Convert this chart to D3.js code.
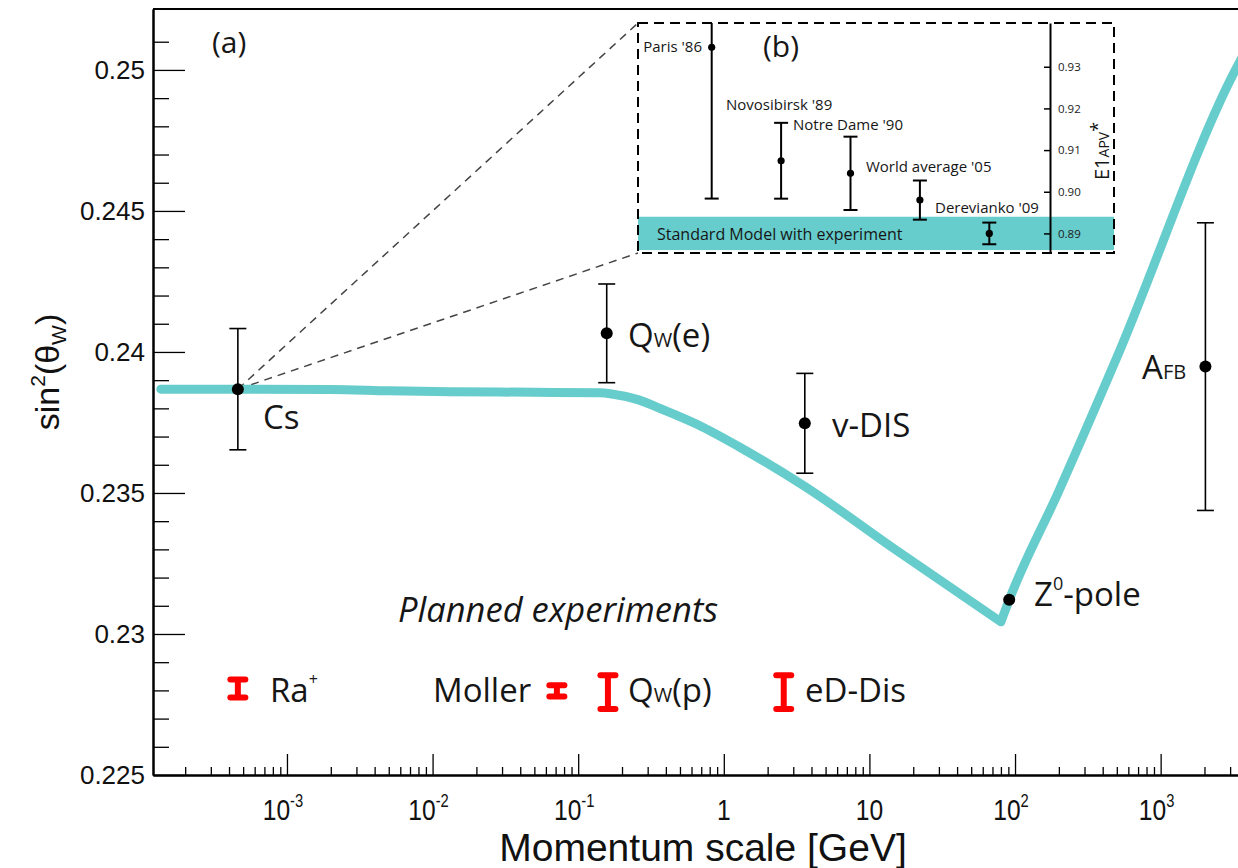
<!DOCTYPE html>
<html><head><meta charset="utf-8">
<script src="https://cdn.jsdelivr.net/npm/d3@7"></script>
<style>body{margin:0;background:#fff;} svg{display:block;}</style>
</head><body>
<svg id="c" width="1238" height="868"></svg>
<script>
// ---------- data ----------
// running of sin^2(theta_W) (teal curve)
const curveQ = [1.36e-4, 2e-3, 5e-3, 0.013, 0.05, 0.14, 0.17, 0.26, 0.36, 0.67, 1.27, 3.63, 15, 80];
const curveS = [0.23868, 0.23867, 0.23862, 0.23859, 0.23857, 0.23855, 0.23851, 0.2383, 0.23801, 0.23741, 0.23664, 0.23522, 0.2330, 0.23043];
const curveQ2 = [80, 91.19, 200, 500, 3264, 4000];
const curveS2 = [0.23043, 0.23121, 0.23507, 0.2398, 0.2500, 0.25085];

// measurements (black)
const measNames = ["Cs", "Qw(e)", "v-DIS", "Z0-pole", "AFB"];
const measQ = [4.6e-4, 0.157, 3.6, 91.19, 2030];
const measS = [0.23868, 0.24066, 0.23747, 0.23121, 0.23948];
const measErr = [0.00215, 0.00175, 0.00177, 0, 0.0051];

// planned experiments (red)
const planNames = ["Ra+", "Moller", "Qw(p)", "eD-Dis"];
const planQ = [4.6e-4, 0.0714, 0.16, 2.58];
const planS = [0.22807, 0.22798, 0.22794, 0.22794];
const planErr = [0.00032, 0.0002, 0.0006, 0.0006];

// axis ticks
const yMajor = [0.225, 0.23, 0.235, 0.24, 0.245, 0.25];
const yMinor = [0.226,0.227,0.228,0.229,0.231,0.232,0.233,0.234,0.236,0.237,0.238,0.239,0.241,0.242,0.243,0.244,0.246,0.247,0.248,0.249,0.251];
const xMajor = [1e-3, 1e-2, 1e-1, 1, 10, 100, 1000];
const xTickBase = ["10", "10", "10", "1", "10", "10", "10"];
const xTickExp = ["-3", "-2", "-1", "", "", "2", "3"];

// inset (b): E1 APV*
const insetNames = ["Paris '86", "Novosibirsk '89", "Notre Dame '90", "World average '05", "Derevianko '09"];
const insetVals = [0.93466, 0.90744, 0.90442, 0.898, 0.89];
const insetErr = [0.0363, 0.0091, 0.0088, 0.0047, 0.0026];
const insetTicks = [0.89, 0.90, 0.91, 0.92, 0.93];
const smCenter = 0.890, smHalf = 0.004;

// ---------- layout ----------
const svg = d3.select("#c");
const X0 = 153, X1 = 1240, Y0 = 9, Y1 = 775;
const x = d3.scaleLog().domain([10 ** -3.92, 10 ** 3.545]).range([X0, X1]);
const y = d3.scaleLinear().domain([0.225, 0.25216]).range([Y1, Y0]);
const TEAL = "#66cccc";
const TXT = "#161616";
const LAB = "'Open Sans', 'Noto Sans', sans-serif";
const AX = "'Liberation Sans', Arial, sans-serif";

svg.append("defs").append("clipPath").attr("id", "plotclip")
  .append("rect").attr("x", X0).attr("y", Y0).attr("width", X1 - X0).attr("height", Y1 - Y0);

// ---------- inset (b) ----------
const IX0 = 638, IX1 = 1114, IY0 = 23, IY1 = 253;
const ix = d3.scaleLinear().domain([0, 4]).range([711.7, 989.3]);
const iy = d3.scaleLinear().domain([0.8853, 0.9405]).range([IY1, IY0]);
svg.append("defs").append("clipPath").attr("id", "insetclip")
  .append("rect").attr("x", IX0).attr("y", IY0).attr("width", IX1 - IX0).attr("height", IY1 - IY0);

const ins = svg.append("g");
ins.append("rect").attr("x", IX0).attr("width", IX1 - IX0)
  .attr("y", iy(smCenter + smHalf)).attr("height", iy(smCenter - smHalf) - iy(smCenter + smHalf))
  .attr("fill", TEAL);

const iax = ins.append("g").attr("transform", `translate(1050,0)`)
  .call(d3.axisRight(iy).tickValues(insetTicks).tickSizeInner(-6).tickSizeOuter(0).tickPadding(8).tickFormat(d3.format(".2f")));
iax.selectAll("path.domain").attr("stroke", "#000").attr("stroke-width", 2);
iax.selectAll(".tick line").attr("stroke", "#000").attr("stroke-width", 1.5);
iax.selectAll(".tick text").attr("font-family", LAB).attr("font-size", 11.5).attr("fill", "#222");

const ig = ins.append("g").attr("clip-path", "url(#insetclip)");
insetVals.forEach((v, i) => {
  const cx = ix(i);
  ig.append("line").attr("x1", cx).attr("x2", cx).attr("y1", iy(v + insetErr[i])).attr("y2", iy(v - insetErr[i]))
    .attr("stroke", "#000").attr("stroke-width", 2);
  [v + insetErr[i], v - insetErr[i]].forEach(e => {
    ig.append("line").attr("x1", cx - 7).attr("x2", cx + 7).attr("y1", iy(e)).attr("y2", iy(e))
      .attr("stroke", "#000").attr("stroke-width", 2);
  });
  ig.append("circle").attr("cx", cx).attr("cy", iy(v)).attr("r", 3.6).attr("fill", "#000");
});

ins.append("rect").attr("x", IX0).attr("y", IY0).attr("width", IX1 - IX0).attr("height", IY1 - IY0)
  .attr("fill", "none").attr("stroke", "#000").attr("stroke-width", 2).attr("stroke-dasharray", "10,6");

const insetLab = [
  [insetNames[0], 702, 52, "end"],
  [insetNames[1], 726, 110, "start"],
  [insetNames[2], 793, 130, "start"],
  [insetNames[3], 866, 172, "start"],
  [insetNames[4], 935, 213, "start"]
];
insetLab.forEach(d => {
  ins.append("text").attr("x", d[1]).attr("y", d[2]).attr("text-anchor", d[3])
    .attr("font-family", LAB).attr("font-size", 15).attr("fill", TXT).text(d[0]);
});
ins.append("text").attr("x", 657).attr("y", 240).attr("font-family", LAB).attr("font-size", 16)
  .attr("fill", TXT).text("Standard Model with experiment");
ins.append("text").attr("x", 763).attr("y", 57).attr("font-family", LAB).attr("font-size", 30)
  .attr("fill", TXT).text("(b)");
const e1 = ins.append("text").attr("transform", "translate(1109,180) rotate(-90)")
  .attr("font-family", LAB).attr("fill", TXT).attr("font-size", 20);
e1.append("tspan").text("E1");
e1.append("tspan").attr("font-size", 14).text("APV");
e1.append("tspan").attr("font-size", 18).attr("dy", -5).text("*");

// ---------- connector dashed lines ----------
const csX = x(measQ[0]), csY = y(measS[0]);
[[IX0, IY0], [IX0, IY1]].forEach(p => {
  svg.append("line").attr("x1", csX).attr("y1", csY).attr("x2", p[0]).attr("y2", p[1])
    .attr("stroke", "#444").attr("stroke-width", 1.5).attr("stroke-dasharray", "8,6");
});

// ---------- axes ----------
const gx = svg.append("g").attr("transform", `translate(0,${Y1})`);
gx.append("g").call(d3.axisBottom(x).tickValues(xMajor).tickSizeInner(-21).tickSizeOuter(0).tickFormat(""));
const xMinor = x.ticks().filter(t => Math.abs(Math.log10(t) - Math.round(Math.log10(t))) > 1e-6);
gx.append("g").call(d3.axisBottom(x).tickValues(xMinor).tickSizeInner(-8).tickSizeOuter(0).tickFormat(""));
gx.selectAll("path.domain").attr("stroke", "#000").attr("stroke-width", 2);
gx.selectAll(".tick line").attr("stroke", "#000").attr("stroke-width", 1.3);

const gy = svg.append("g").attr("transform", `translate(${X0},0)`);
const gyM = gy.append("g").call(d3.axisLeft(y).tickValues(yMajor).tickSizeInner(-32).tickSizeOuter(0).tickPadding(8).tickFormat(d3.format(".3~f")));
gy.append("g").call(d3.axisLeft(y).tickValues(yMinor).tickSizeInner(-16).tickSizeOuter(0).tickFormat(""));
gy.selectAll("path.domain").attr("stroke", "#000").attr("stroke-width", 2);
gy.selectAll(".tick line").attr("stroke", "#000").attr("stroke-width", 1.3);
gyM.selectAll(".tick text").attr("font-family", AX).attr("font-size", 26).attr("fill", "#111");

svg.append("line").attr("x1", X0).attr("x2", X1).attr("y1", Y0).attr("y2", Y0)
  .attr("stroke", "#000").attr("stroke-width", 2);

xMajor.forEach((v, i) => {
  const t = svg.append("text").attr("transform", `translate(${x(v) - (xTickExp[i] ? 4 : 0)},820) scale(0.82,1)`)
    .attr("text-anchor", "middle")
    .attr("font-family", AX).attr("font-size", 30).attr("fill", "#111");
  t.append("tspan").text(xTickBase[i]);
  if (xTickExp[i]) t.append("tspan").attr("font-size", 18).attr("dy", -13).text(xTickExp[i]);
});
svg.append("text").attr("x", 703).attr("y", 861).attr("text-anchor", "middle")
  .attr("font-family", AX).attr("font-size", 39).attr("fill", "#111").text("Momentum scale [GeV]");

const yt = svg.append("text").attr("transform", "translate(59,372) rotate(-90)").attr("text-anchor", "middle")
  .attr("font-family", AX).attr("font-size", 34).attr("fill", "#111");
yt.append("tspan").text("sin");
yt.append("tspan").attr("font-size", 21).attr("dy", -14).text("2");
yt.append("tspan").attr("dy", 14).text("(θ");
yt.append("tspan").attr("font-size", 21).attr("dy", 7).text("W");
yt.append("tspan").attr("dy", -7).text(")");

// ---------- curve ----------
const line = d3.line().x(d => x(d[0])).y(d => y(d[1])).curve(d3.curveMonotoneX);
const c1 = curveQ.map((q, i) => [q, curveS[i]]);
const c2 = curveQ2.map((q, i) => [q, curveS2[i]]);
svg.append("path").attr("clip-path", "url(#plotclip)")
  .attr("d", line(c1) + line(c2))
  .attr("fill", "none").attr("stroke", TEAL).attr("stroke-width", 9)
  .attr("stroke-linecap", "round").attr("stroke-linejoin", "round");

// ---------- measurements ----------
const mg = svg.append("g");
measQ.forEach((q, i) => {
  const cx = x(q);
  if (measErr[i] > 0) {
    mg.append("line").attr("x1", cx).attr("x2", cx).attr("y1", y(measS[i] + measErr[i])).attr("y2", y(measS[i] - measErr[i]))
      .attr("stroke", "#000").attr("stroke-width", 1.6);
    [measS[i] + measErr[i], measS[i] - measErr[i]].forEach(e => {
      mg.append("line").attr("x1", cx - 8.5).attr("x2", cx + 8.5).attr("y1", y(e)).attr("y2", y(e))
        .attr("stroke", "#000").attr("stroke-width", 1.6);
    });
  }
  mg.append("circle").attr("cx", cx).attr("cy", y(measS[i])).attr("r", 6).attr("fill", "#000");
});

function lab(xp, yp, parts, size) {
  const t = svg.append("text").attr("x", xp).attr("y", yp).attr("font-family", LAB)
    .attr("font-size", size || 33).attr("fill", TXT);
  parts.forEach(p => {
    const s = t.append("tspan").text(p[0]);
    if (p[1]) s.attr("font-size", p[1]);
    if (p[2]) s.attr("dy", p[2]);
    if (p[3]) s.attr("font-style", p[3]);
  });
  return t;
}
lab(212, 53, [["(a)"]], 30);
lab(263, 429, [["Cs"]]);
lab(628, 347, [["Q"], ["W", 20], ["(e)"]]);
lab(832, 437, [["v-DIS"]]);
lab(1034, 606, [["Z"], ["0", 18, -16], ["-pole", null, 16]]);
lab(1142, 379, [["A"], ["FB", 20]]);
lab(398, 622, [["Planned experiments", null, null, "italic"]], 34.5);

// ---------- planned experiments ----------
const pg = svg.append("g");
planQ.forEach((q, i) => {
  const cx = x(q), top = y(planS[i] + planErr[i]), bot = y(planS[i] - planErr[i]);
  pg.append("line").attr("x1", cx).attr("x2", cx).attr("y1", top).attr("y2", bot)
    .attr("stroke", "#ff0000").attr("stroke-width", 6);
  [top, bot].forEach(yy => {
    pg.append("line").attr("x1", cx - 7.5).attr("x2", cx + 7.5).attr("y1", yy).attr("y2", yy)
      .attr("stroke", "#ff0000").attr("stroke-width", 6).attr("stroke-linecap", "round");
  });
});
lab(270, 702, [["Ra"], ["+", 16, -17]]);
lab(433, 702, [["Moller"]]);
lab(628, 702, [["Q"], ["W", 20], ["(p)"]]);
lab(805, 702, [["eD-Dis"]]);
</script>
</body></html>
